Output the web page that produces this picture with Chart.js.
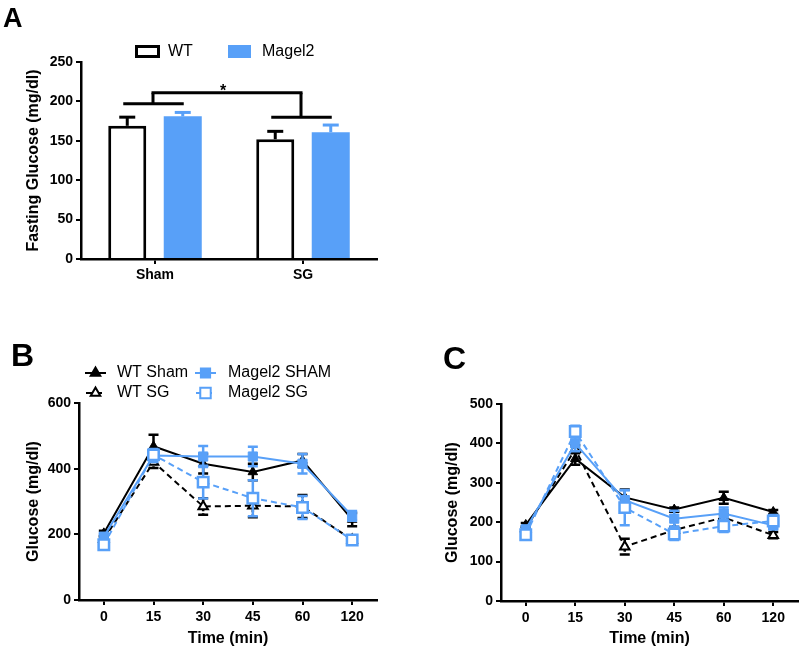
<!DOCTYPE html>
<html>
<head>
<meta charset="utf-8">
<script src="https://cdn.jsdelivr.net/npm/chart.js@4.4.1/dist/chart.umd.min.js"></script>
<style>
  html, body { margin: 0; padding: 0; background: #fff; }
  #wrap { position: relative; width: 800px; height: 648px; overflow: hidden; font-family: 'Liberation Sans', Arial, sans-serif; }
  canvas { position: absolute; }
  .panel { position: absolute; font-weight: bold; line-height: 1; color: #000; z-index: 2; }
</style>
</head>
<body>
<div id="wrap">
  <canvas id="chartA" width="400" height="300" style="left:0;top:0"></canvas>
  <canvas id="chartB" width="400" height="338" style="left:0;top:310px"></canvas>
  <canvas id="chartC" width="420" height="338" style="left:400px;top:310px"></canvas>
  <div class="panel" style="left:3px;top:5px;font-size:27px">A</div>
  <div class="panel" style="left:11px;top:339px;font-size:32px">B</div>
  <div class="panel" style="left:443px;top:342px;font-size:32px">C</div>
</div>
<script>
// ---- data ----
const surgeryGroups = ['Sham', 'SG'];
const fastingWT = [169, 152];
const fastingWTErr = [11, 10];
const fastingMagel2 = [181, 161];
const fastingMagel2Err = [5, 9];
const bracketLevels = [197, 180];   // Sham, SG
const bracketTop = 211;

const timePoints = ['0', '15', '30', '45', '60', '120'];

// panel B
const bWTSham = [203, 468, 415, 390, 425, 245];
const bWTShamErr = [8, 35, 30, 25, 20, 20];
const bWTSG = [185, 420, 285, 287, 285, 183];
const bWTSGErr = [8, 18, 25, 35, 35, 8];
const bMagSham = [193, 440, 437, 437, 415, 256];
const bMagShamErr = [8, 20, 32, 30, 30, 15];
const bMagSG = [168, 442, 359, 310, 282, 183];
const bMagSGErr = [8, 15, 50, 55, 35, 8];

// panel C
const cWTSham = [193, 361, 263, 232, 262, 226];
const cWTShamErr = [5, 15, 20, 5, 15, 5];
const cWTSG = [184, 385, 138, 180, 212, 167];
const cWTSGErr = [5, 10, 20, 8, 8, 8];
const cMagSham = [182, 400, 256, 209, 222, 192];
const cMagShamErr = [8, 20, 25, 20, 15, 10];
const cMagSG = [168, 430, 237, 170, 190, 203];
const cMagSGErr = [8, 15, 45, 15, 15, 15];

const seriesNames = ['WT Sham', 'WT SG', 'Magel2 SHAM', 'Magel2 SG'];

const BLUE = '#58A0F8';
const FONT = "'Liberation Sans', Arial, sans-serif";
Chart.defaults.font.family = FONT;
Chart.defaults.color = '#000';

// ---- plugins ----
function drawErrorBars(chart, index, capHalf, lw, twoSided) {
  const ds = chart.data.datasets[index];
  if (!ds.err) return;
  const meta = chart.getDatasetMeta(index);
  const y = chart.scales.y;
  const ctx = chart.ctx;
  ctx.save();
  ctx.strokeStyle = ds.errColor;
  ctx.lineWidth = lw;
  meta.data.forEach((el, i) => {
    const v = ds.data[i], e = ds.err[i];
    const yTop = y.getPixelForValue(v + e);
    const yBot = twoSided ? y.getPixelForValue(v - e) : el.y;
    ctx.setLineDash(ds.errDash || []);
    ctx.beginPath();
    ctx.moveTo(el.x, yTop);
    ctx.lineTo(el.x, yBot);
    ctx.stroke();
    ctx.setLineDash([]);
    ctx.beginPath();
    ctx.moveTo(el.x - capHalf, yTop);
    ctx.lineTo(el.x + capHalf, yTop);
    if (twoSided) {
      ctx.moveTo(el.x - capHalf, yBot);
      ctx.lineTo(el.x + capHalf, yBot);
    }
    ctx.stroke();
  });
  ctx.restore();
}

const barErrors = {
  id: 'barErrors',
  afterDatasetDraw(chart, args) { drawErrorBars(chart, args.index, 8, 3, false); }
};

const lineErrors = {
  id: 'lineErrors',
  beforeDatasetDraw(chart, args) { drawErrorBars(chart, args.index, 5, 2.5, true); }
};

const bracket = {
  id: 'bracket',
  afterDatasetsDraw(chart) {
    const ctx = chart.ctx;
    const x = chart.scales.x, y = chart.scales.y;
    const m0 = chart.getDatasetMeta(0), m1 = chart.getDatasetMeta(1);
    const topY = y.getPixelForValue(bracketTop);
    ctx.save();
    ctx.strokeStyle = '#000';
    ctx.lineWidth = 3;
    const centers = [];
    surgeryGroups.forEach((g, i) => {
      const ly = y.getPixelForValue(bracketLevels[i]);
      const cx = x.getPixelForValue(i) - 2;
      centers.push(cx);
      ctx.beginPath();
      ctx.moveTo(m0.data[i].x - 4, ly);
      ctx.lineTo(m1.data[i].x + 1, ly);
      ctx.moveTo(cx, ly);
      ctx.lineTo(cx, topY);
      ctx.stroke();
    });
    ctx.beginPath();
    ctx.moveTo(centers[0] - 1.5, topY);
    ctx.lineTo(centers[1] + 1.5, topY);
    ctx.stroke();
    ctx.fillStyle = '#000';
    ctx.font = 'bold 16px ' + FONT;
    ctx.textAlign = 'center';
    ctx.textBaseline = 'alphabetic';
    ctx.fillText('*', (centers[0] + centers[1]) / 2 - 4, topY + 3);
    ctx.restore();
  }
};

const legendA = {
  id: 'legendA',
  afterDraw(chart) {
    const ctx = chart.ctx;
    const spots = [{ x: 135, w: 25, tx: 168 }, { x: 228, w: 23, tx: 262 }];
    ctx.save();
    chart.data.datasets.forEach((ds, i) => {
      const s = spots[i];
      ctx.fillStyle = ds.backgroundColor;
      ctx.fillRect(s.x, 45, s.w, 13);
      if (ds.borderWidth > 0) {
        ctx.strokeStyle = ds.borderColor;
        ctx.lineWidth = 3;
        ctx.strokeRect(s.x + 1.5, 46.5, s.w - 3, 10);
      }
      ctx.fillStyle = '#000';
      ctx.font = '16px ' + FONT;
      ctx.textBaseline = 'middle';
      ctx.textAlign = 'left';
      ctx.fillText(ds.label, s.tx, 52);
    });
    ctx.restore();
  }
};

const legendB = {
  id: 'legendB',
  afterDraw(chart) {
    const ctx = chart.ctx;
    const spots = [
      { sx: 85, tx: 117, y: 63 }, { sx: 85, tx: 117, y: 83 },
      { sx: 195, tx: 228, y: 63 }, { sx: 195, tx: 228, y: 83 }
    ];
    ctx.save();
    chart.data.datasets.forEach((ds, i) => {
      const s = spots[i];
      ctx.strokeStyle = ds.borderColor;
      ctx.lineWidth = 2;
      ctx.setLineDash(ds.borderDash || []);
      ctx.beginPath();
      ctx.moveTo(ds.borderDash ? s.sx + 1 : s.sx, s.y);
      ctx.lineTo(s.sx + 21, s.y);
      ctx.stroke();
      ctx.setLineDash([]);
      ctx.fillStyle = ds.pointBackgroundColor;
      ctx.strokeStyle = ds.pointBorderColor;
      Chart.helpers.drawPoint(ctx, {
        pointStyle: ds.pointStyle,
        radius: ds.pointRadius,
        rotation: 0,
        borderWidth: ds.pointBorderWidth
      }, s.sx + 10.5, s.y);
      ctx.fillStyle = '#000';
      ctx.font = '16px ' + FONT;
      ctx.textBaseline = 'middle';
      ctx.textAlign = 'left';
      ctx.fillText(ds.label, s.tx, s.y);
    });
    ctx.restore();
  }
};

// ---- shared axis styling ----
function axisGrid() {
  return { display: true, drawOnChartArea: false, drawTicks: true, tickLength: 5, color: '#000', lineWidth: 2 };
}
const axisBorder = { display: true, color: '#000', width: 2.5 };
const tickFont = { size: 14, weight: 'bold' };

// ---- panel A ----
new Chart(document.getElementById('chartA'), {
  type: 'bar',
  data: {
    labels: surgeryGroups,
    datasets: [
      { label: 'WT', data: fastingWT, err: fastingWTErr, errColor: '#000',
        backgroundColor: '#fff', borderColor: '#000', borderWidth: 3 },
      { label: 'Magel2', data: fastingMagel2, err: fastingMagel2Err, errColor: BLUE,
        backgroundColor: BLUE, borderColor: BLUE, borderWidth: 0 }
    ]
  },
  options: {
    responsive: false,
    animation: false,
    layout: { padding: { left: 24, right: 23, top: 62, bottom: 11 } },
    plugins: { legend: { display: false }, tooltip: { enabled: false } },
    datasets: { bar: { categoryPercentage: 0.75, barPercentage: 0.685 } },
    scales: {
      x: {
        z: 1,
        grid: Object.assign(axisGrid(), { offset: false }),
        border: axisBorder,
        ticks: { font: tickFont, padding: 3, color: '#000' },
        afterFit: (s) => { s.height = 30; }
      },
      y: {
        min: 0, max: 250,
        grid: axisGrid(),
        border: axisBorder,
        ticks: { stepSize: 50, font: tickFont, padding: 3, color: '#000' },
        title: { display: true, text: 'Fasting Glucose (mg/dl)', font: { size: 16, weight: 'bold' }, padding: 0, color: '#000' },
        afterFit: (s) => { s.width = 57; }
      }
    }
  },
  plugins: [barErrors, bracket, legendA]
});

// ---- panels B and C ----
function lineSets(wtSham, wtShamErr, wtSG, wtSGErr, magSham, magShamErr, magSG, magSGErr) {
  return [
    { label: seriesNames[0], data: wtSham, err: wtShamErr, errColor: '#000', order: 3,
      borderColor: '#000', borderWidth: 2, pointStyle: 'triangle', pointRadius: 5.5,
      pointBackgroundColor: '#000', pointBorderColor: '#000', pointBorderWidth: 1 },
    { label: seriesNames[1], data: wtSG, err: wtSGErr, errColor: '#000', errDash: [3, 2], order: 2,
      borderColor: '#000', borderWidth: 2, borderDash: [6, 4], pointStyle: 'triangle', pointRadius: 5.5,
      pointBackgroundColor: '#fff', pointBorderColor: '#000', pointBorderWidth: 2 },
    { label: seriesNames[2], data: magSham, err: magShamErr, errColor: BLUE, order: 1,
      borderColor: BLUE, borderWidth: 2, pointStyle: 'rect', pointRadius: 6.5,
      pointBackgroundColor: BLUE, pointBorderColor: BLUE, pointBorderWidth: 1 },
    { label: seriesNames[3], data: magSG, err: magSGErr, errColor: BLUE, order: 0,
      borderColor: BLUE, borderWidth: 2, borderDash: [6, 4], pointStyle: 'rect', pointRadius: 7.4,
      pointBackgroundColor: '#fff', pointBorderColor: BLUE, pointBorderWidth: 2.5 }
  ];
}

function lineChart(id, datasets, yMax, yStep, pad, yWidth, xHeight, titlePad, extra) {
  return new Chart(document.getElementById(id), {
    type: 'line',
    data: { labels: timePoints, datasets: datasets },
    options: {
      responsive: false,
      animation: false,
      layout: { padding: pad },
      plugins: { legend: { display: false }, tooltip: { enabled: false } },
      elements: { line: { tension: 0, fill: false } },
      scales: {
        x: {
          offset: true,
          grid: axisGrid(),
          border: axisBorder,
          ticks: { font: tickFont, padding: 4, color: '#000' },
          title: { display: true, text: 'Time (min)', font: { size: 16, weight: 'bold' }, padding: 0, color: '#000' },
          afterFit: (s) => { s.height = xHeight; }
        },
        y: {
          min: 0, max: yMax,
          grid: axisGrid(),
          border: axisBorder,
          ticks: { stepSize: yStep, font: tickFont, padding: 3, color: '#000' },
          title: { display: true, text: 'Glucose (mg/dl)', font: { size: 16, weight: 'bold' }, padding: { top: titlePad, bottom: 0 }, color: '#000' },
          afterFit: (s) => { s.width = yWidth; }
        }
      }
    },
    plugins: [lineErrors].concat(extra)
  });
}

lineChart('chartB',
  lineSets(bWTSham, bWTShamErr, bWTSG, bWTSGErr, bMagSham, bMagShamErr, bMagSG, bMagSGErr),
  600, 200, { left: 22, right: 23, top: 93, bottom: 0 }, 57, 48, 2, [legendB]);

lineChart('chartC',
  lineSets(cWTSham, cWTShamErr, cWTSG, cWTSGErr, cMagSham, cMagShamErr, cMagSG, cMagSGErr),
  500, 100, { left: 43, right: 22, top: 94, bottom: 0 }, 58, 47, 0, []);
</script>
</body>
</html>
